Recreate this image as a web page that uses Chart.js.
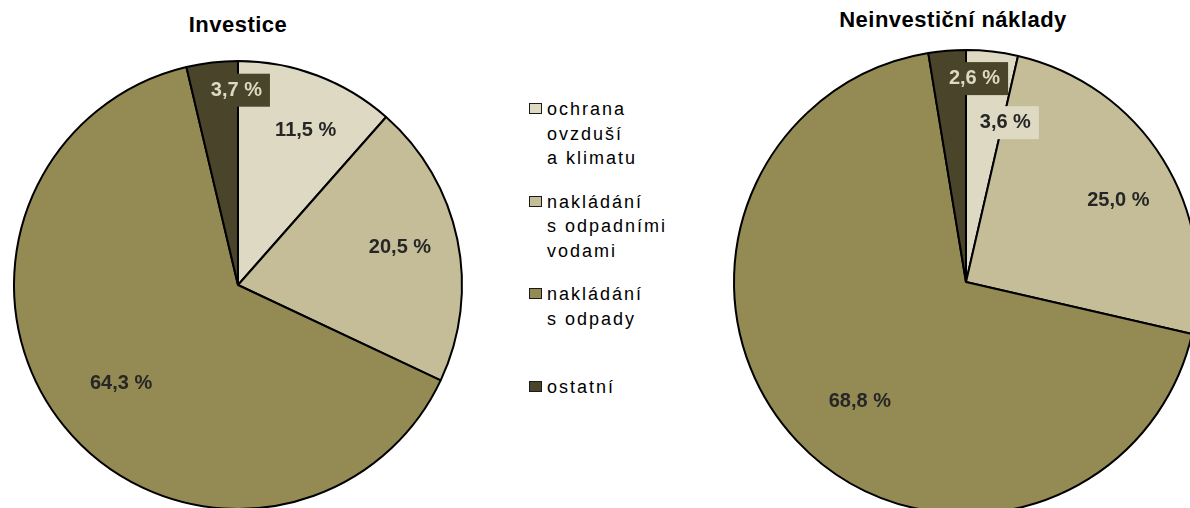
<!DOCTYPE html>
<html lang="cs">
<head>
<meta charset="utf-8">
<title>Investice a neinvestiční náklady</title>
<script src="https://cdn.jsdelivr.net/npm/chart.js@4.4.1/dist/chart.umd.min.js"></script>
<style>
  html, body {
    margin: 0;
    padding: 0;
    width: 1190px;
    height: 508px;
    overflow: hidden;
    background: #fff;
    font-family: "Liberation Sans", Arial, sans-serif;
  }
  body { position: relative; }
  .chart-box { position: absolute; }
  .title {
    position: absolute;
    transform: translateX(-50%);
    white-space: nowrap;
    font-size: 22px;
    line-height: 26px;
    font-weight: bold;
    letter-spacing: 0.5px;
    color: #000;
  }
  #legend { position: absolute; left: 529px; top: 0; }
  #legend .item {
    position: absolute;
    left: 0;
    padding-left: 18px;
    white-space: nowrap;
    font-size: 18px;
    line-height: 24.5px;
    letter-spacing: 2px;
    color: #000;
  }
  #legend .mark {
    position: absolute;
    left: 0;
    top: 6px;
    width: 11px;
    height: 9px;
    border: 1px solid #1a1a1a;
  }
</style>
</head>
<body>

<div class="title" style="left:238px; top:12px;">Investice</div>
<div class="title" style="left:953px; top:7px;">Neinvestiční náklady</div>

<div class="chart-box" style="left:0; top:35px; width:476px; height:500px;">
  <canvas id="investiceChart"></canvas>
</div>
<div class="chart-box" style="left:726px; top:32px; width:480px; height:500px;">
  <canvas id="neinvChart"></canvas>
</div>

<div id="legend"></div>

<script>
// Data
const categories = [
  ['ochrana', 'ovzduší', 'a klimatu'],
  ['nakládání', 's odpadními', 'vodami'],
  ['nakládání', 's odpady'],
  ['ostatní']
];
const investice = [11.5, 20.5, 64.3, 3.7];
const neinvesticni = [3.6, 25.0, 68.8, 2.6];
const colors = ['#DDD9C3', '#C4BD97', '#948A54', '#4A452A'];

// Percent labels drawn at each slice's mid angle
const pieLabels = {
  id: 'pieLabels',
  afterDatasetsDraw(chart, args, opts) {
    const ctx = chart.ctx;
    const meta = chart.getDatasetMeta(0);
    const values = chart.data.datasets[0].data;
    ctx.save();
    ctx.font = 'bold 20px "Liberation Sans", Arial, sans-serif';
    ctx.textAlign = 'center';
    ctx.textBaseline = 'middle';
    meta.data.forEach((arc, i) => {
      const p = arc.getProps(['x', 'y', 'startAngle', 'endAngle', 'outerRadius']);
      const mid = (p.startAngle + p.endAngle) / 2;
      const r = p.outerRadius * opts.fraction[i];
      const x = p.x + Math.cos(mid) * r + opts.nudge[i][0];
      const y = p.y + Math.sin(mid) * r + opts.nudge[i][1];
      const text = values[i].toFixed(1).replace('.', ',') + ' %';
      if (opts.boxes[i]) {
        const w = ctx.measureText(text).width + 16;
        const h = 33;
        ctx.fillStyle = opts.boxes[i];
        ctx.fillRect(x - w / 2, y - h / 2, w, h);
      }
      ctx.fillStyle = opts.textColors[i];
      ctx.fillText(text, x, y);
    });
    ctx.restore();
  }
};

function makePie(canvasId, values, radius, labelOpts) {
  return new Chart(document.getElementById(canvasId), {
    type: 'pie',
    data: {
      labels: categories.map(c => c.join(' ')),
      datasets: [{
        data: values,
        backgroundColor: colors,
        borderColor: '#000',
        borderWidth: 2,
        radius: radius,
        clip: false
      }]
    },
    options: {
      responsive: true,
      maintainAspectRatio: false,
      animation: false,
      events: [],
      plugins: {
        legend: { display: false },
        tooltip: { enabled: false },
        pieLabels: labelOpts
      }
    },
    plugins: [pieLabels]
  });
}

const investiceChart = makePie('investiceChart', investice, 224, {
  fraction: [0.754, 0.743, 0.684, 0.871],
  nudge: [[8, 3], [-1, -4], [2, 2], [21, -1]],
  boxes: [null, null, null, '#4A452A'],
  textColors: ['#262626', '#262626', '#262626', '#DDD9C3']
});

const neinvChart = makePie('neinvChart', neinvesticni, 232, {
  fraction: [0.70, 0.744, 0.687, 0.871],
  nudge: [[21, 2], [6, 10], [10, 10], [25, -2]],
  boxes: ['#DDD9C3', null, null, '#4A452A'],
  textColors: ['#262626', '#262626', '#262626', '#DDD9C3']
});

// Legend (shared by both pies)
const legendEl = document.getElementById('legend');
categories.forEach((lines, i) => {
  const item = document.createElement('div');
  item.className = 'item';
  item.style.top = (97 + i * 92.7) + 'px';
  const mark = document.createElement('span');
  mark.className = 'mark';
  mark.style.background = colors[i];
  item.appendChild(mark);
  lines.forEach((line, j) => {
    if (j > 0) item.appendChild(document.createElement('br'));
    item.appendChild(document.createTextNode(line));
  });
  legendEl.appendChild(item);
});
</script>
</body>
</html>
